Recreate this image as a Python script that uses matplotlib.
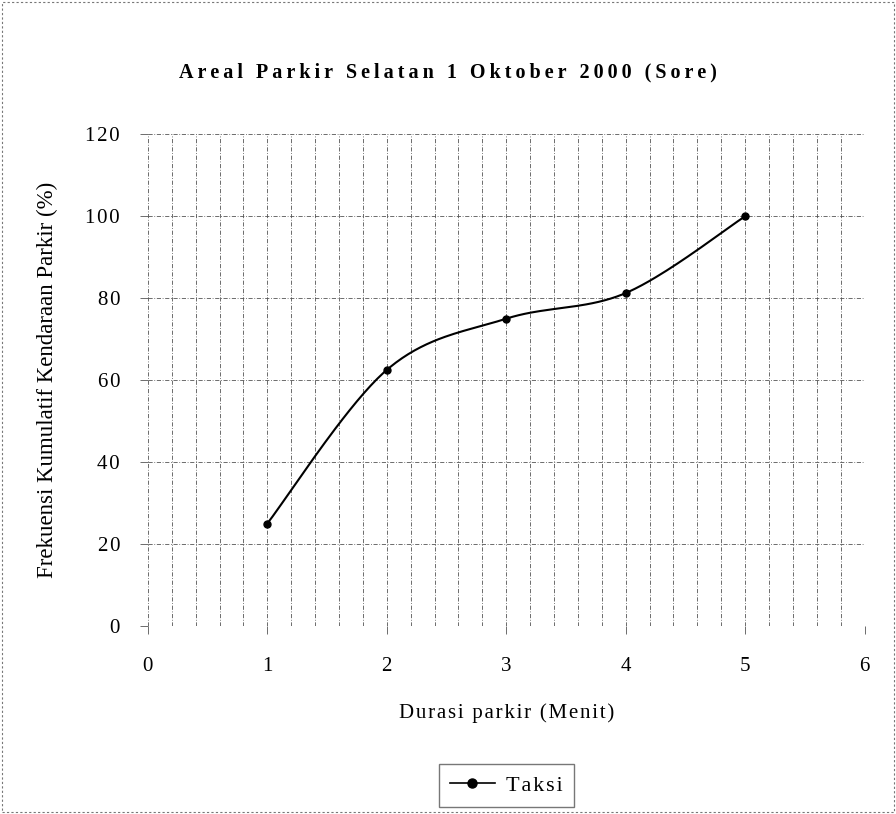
import numpy as np
import matplotlib.pyplot as plt
from matplotlib.patches import Rectangle

# data
durasi = [1, 2, 3, 4, 5]
frekuensi = [25.0, 62.5, 75.0, 81.25, 100.0]
seri = 'Taksi'
judul = 'Areal Parkir Selatan 1 Oktober 2000 (Sore)'
label_x = 'Durasi parkir (Menit)'
label_y = 'Frekuensi Kumulatif Kendaraan Parkir (%)'

plt.rcParams['font.family'] = ['Liberation Serif', 'DejaVu Serif']


def renggang(teks, sp='\u200a'):
    # huruf direnggangkan seperti cetakan aslinya
    return sp.join(teks)


def kurva_halus(x, y, n=40):
    # Catmull-Rom, mirip garis "smoothed" di Excel
    x = np.asarray(x, float)
    y = np.asarray(y, float)
    px = np.concatenate([[x[0]], x, [x[-1]]])
    py = np.concatenate([[y[0]], y, [y[-1]]])
    xs, ys = [], []
    t = np.linspace(0, 1, n)
    for i in range(1, len(px) - 2):
        for arr, out in ((px, xs), (py, ys)):
            p0, p1, p2, p3 = arr[i - 1], arr[i], arr[i + 1], arr[i + 2]
            c1 = p1 + (p2 - p0) / 6
            c2 = p2 - (p3 - p1) / 6
            out.extend((1 - t) ** 3 * p1 + 3 * (1 - t) ** 2 * t * c1
                       + 3 * (1 - t) * t ** 2 * c2 + t ** 3 * p2)
    return xs, ys


fig = plt.figure(figsize=(8.96, 8.14), dpi=100)
ax = fig.add_axes([0.165, 0.231, 0.8, 0.604])

gaya_grid = dict(color='#555555', lw=0.6, linestyle=(0, (5, 2, 1, 2)))
for xv in np.arange(0, 6.01, 0.2):
    ax.axvline(xv, **gaya_grid, zorder=0)
for yv in range(0, 121, 20):
    ax.axhline(yv, **gaya_grid, zorder=0)

xs, ys = kurva_halus(durasi, frekuensi)
ax.plot(xs, ys, color='black', lw=1.5, zorder=3)
ax.plot(durasi, frekuensi, 'o', color='black', ms=5, zorder=4)

ax.set_xlim(0, 6)
ax.set_ylim(0, 120)
ax.set_xticks(range(0, 7))
ax.set_yticks(range(0, 121, 20))
ax.set_yticklabels([renggang(str(v)) for v in range(0, 121, 20)])
for s in ax.spines.values():
    s.set_visible(False)
ax.tick_params(length=6, width=0.6, color='#555555', labelsize=15, pad=14)
ax.tick_params(axis='x', pad=16)

ax.set_xlabel(renggang(label_x), fontsize=15, labelpad=20)
ax.set_ylabel(label_y, fontsize=16.5, labelpad=20)
fig.text(0.5, 0.911, renggang(judul, '\u2009'), ha='center', va='center',
         fontsize=14.5, fontweight='bold')

# legend
h, = ax.plot([], [], '-o', color='black', lw=1.2, ms=6.5)
fig.legend([h], [renggang(seri)], loc='center', bbox_to_anchor=(0.565, 0.035),
           fontsize=16, frameon=True, fancybox=False, edgecolor='#555555',
           handlelength=2.0, borderpad=0.5, handletextpad=0.5)

fig.patches.append(Rectangle((0.002, 0.002), 0.996, 0.996,
                             transform=fig.transFigure, fill=False,
                             lw=0.8, ls=(0, (2, 2)), edgecolor='#777777'))

plt.savefig('out.png', dpi=100)
